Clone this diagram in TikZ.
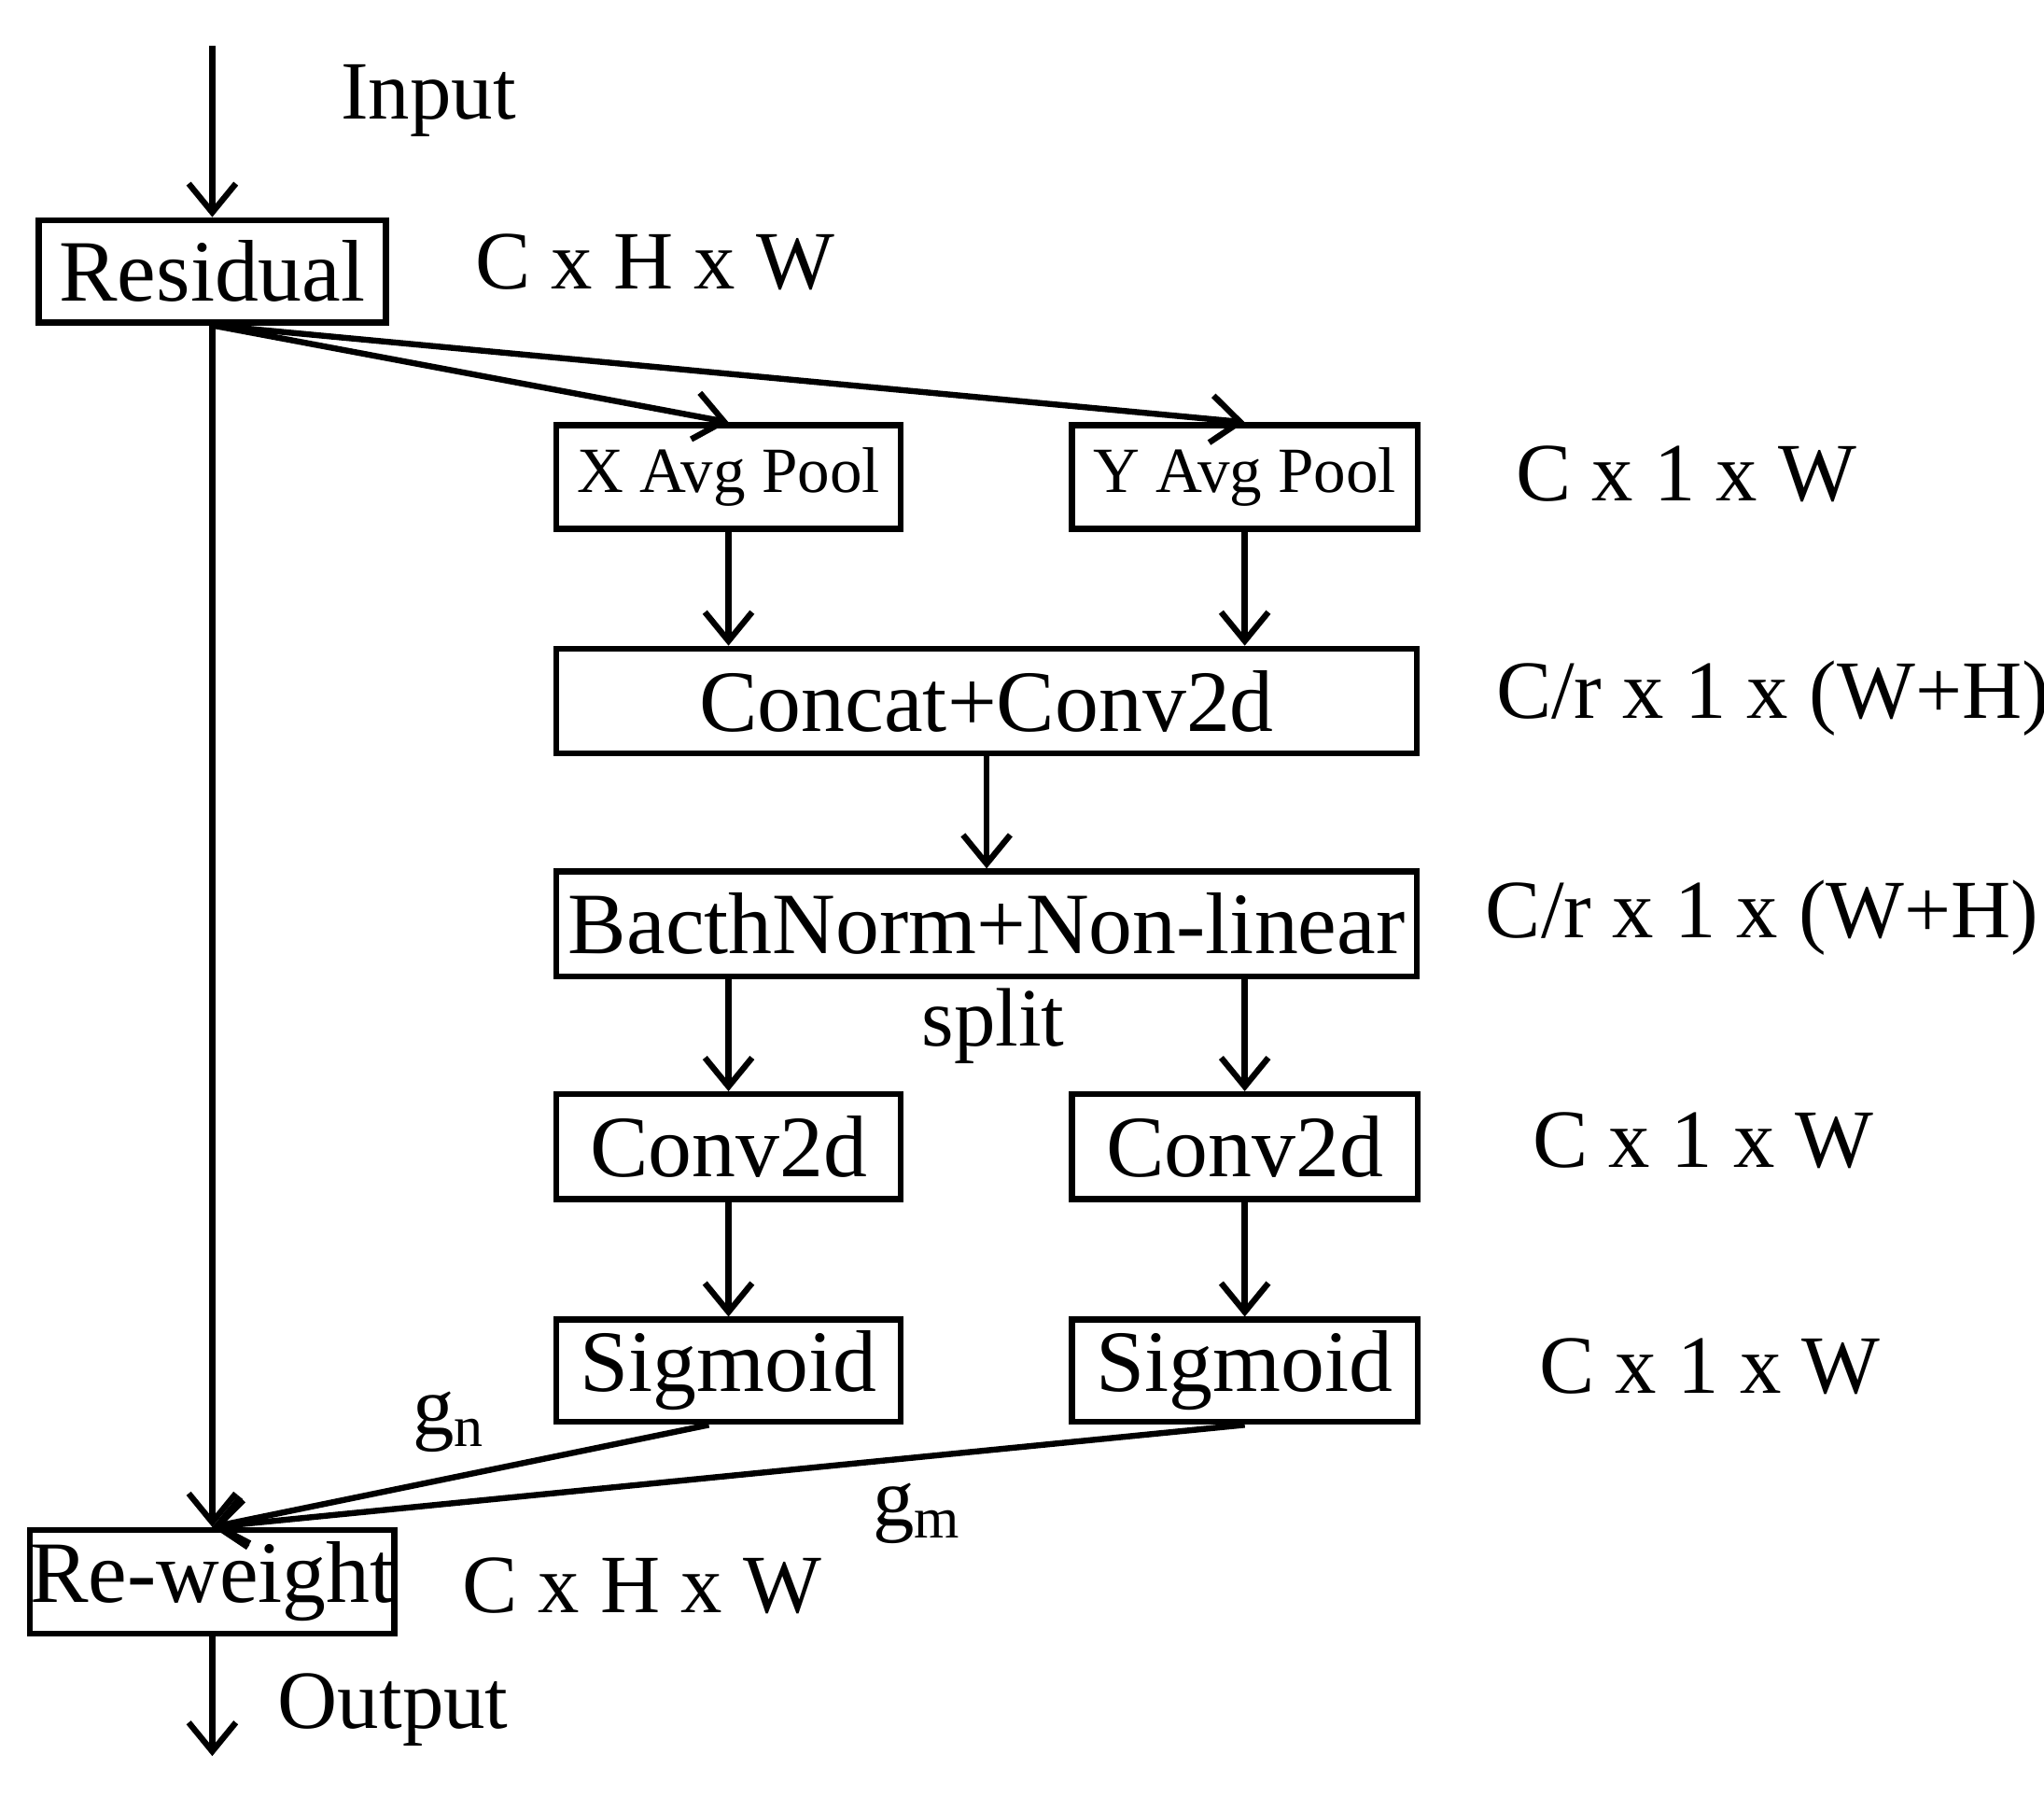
\documentclass[tikz,border=0pt]{standalone}
\usepackage{fontspec}
\setmainfont{Liberation Serif}
\usetikzlibrary{arrows.meta}
\begin{document}
\begin{tikzpicture}[x=0.1mm,y=-0.1mm,
  box/.style={draw,line width=1.3pt,inner sep=0pt,font=\fontsize{19}{22}\selectfont},
  sbox/.style={draw,line width=1.3pt,inner sep=0pt,font=\fontsize{14}{16}\selectfont},
  lab/.style={font=\fontsize{18}{21}\selectfont},
  arr/.style={line width=1.3pt,-{Straight Barb[length=2.2mm,width=3.6mm]}}]
\useasboundingbox (0,0) rectangle (1560,1371);
\node[box,minimum width=26.5mm,minimum height=7.8mm] (res) at (162,207) {Residual};
\node[sbox,minimum width=26.3mm,minimum height=7.9mm] (xp) at (556,364) {X Avg Pool};
\node[sbox,minimum width=26.4mm,minimum height=7.9mm] (yp) at (950,364) {Y Avg Pool};
\node[box,minimum width=65.7mm,minimum height=8mm] (cc) at (753,535) {Concat+Conv2d};
\node[box,minimum width=65.7mm,minimum height=8mm] (bn) at (753,705) {BacthNorm+Non-linear};
\node[box,minimum width=26.3mm,minimum height=8mm] (c1) at (556,875) {Conv2d};
\node[box,minimum width=26.4mm,minimum height=8mm] (c2) at (950,875) {Conv2d};
\node[box,minimum width=26.3mm,minimum height=7.8mm] (s1) at (556,1046) {Sigmoid};
\node[box,minimum width=26.4mm,minimum height=7.8mm] (s2) at (950,1046) {Sigmoid};
\node[box,minimum width=26.5mm,minimum height=7.9mm] (rw) at (162,1207) {Re-weight};
\coordinate (in) at (162,35);
\coordinate (out) at (162,1340);
\node[lab] at (327,77) {Input};
\node[lab] at (500,200) {C x H x W};
\node[lab] at (1287,362) {C x 1 x W};
\node[lab] at (1353,533) {C/r x 1 x (W+H)};
\node[lab] at (1345,700) {C/r x 1 x (W+H)};
\node[lab] at (758,783) {split};
\node[lab] at (1300,870) {C x 1 x W};
\node[lab] at (1305,1043) {C x 1 x W};
\node[lab] at (490,1210) {C x H x W};
\node[lab] at (300,1305) {Output};
\node[lab] at (343,1085) {g\textsubscript{n}};
\node[lab] at (700,1155) {g\textsubscript{m}};
\draw[arr] (in) -- (res.north);
\draw[arr] (res.south) -- (rw.north);
\draw[arr] (res.south) -- (xp.north);
\draw[arr] (res.south) -- (yp.north);
\draw[arr] (xp) -- (xp|-cc.north);
\draw[arr] (yp) -- (yp|-cc.north);
\draw[arr] (cc) -- (bn);
\draw[arr] (bn.south-|c1) -- (c1);
\draw[arr] (bn.south-|c2) -- (c2);
\draw[arr] (c1) -- (s1);
\draw[arr] (c2) -- (s2);
\draw[arr] ([xshift=-1.5mm]s1.south) -- (rw.north);
\draw[arr] (s2.south) -- (rw.north);
\draw[arr] (rw) -- (out);
\end{tikzpicture}
\end{document}
